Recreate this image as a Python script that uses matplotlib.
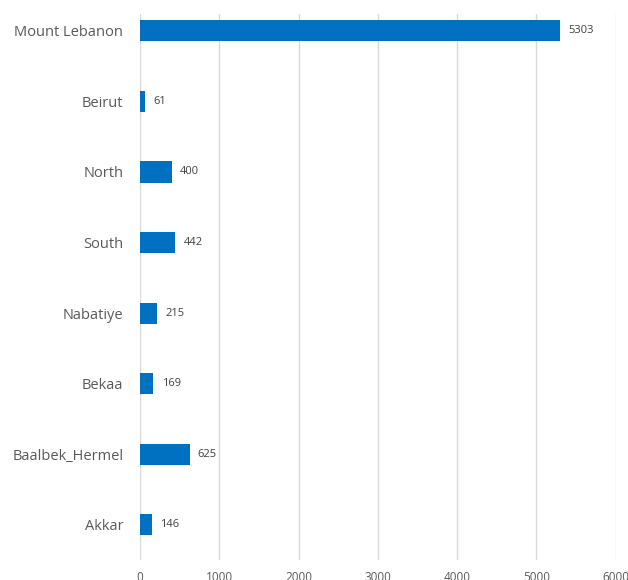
import matplotlib

matplotlib.use("Agg")
import matplotlib.pyplot as plt

regions = ["Mount Lebanon", "Beirut", "North", "South", "Nabatiye", "Bekaa", "Baalbek_Hermel", "Akkar"]
counts = [5303, 61, 400, 442, 215, 169, 625, 146]
xticks = [0, 1000, 2000, 3000, 4000, 5000, 6000]

plt.rcParams["font.family"] = ["Open Sans", "DejaVu Sans"]

fig = plt.figure(figsize=(6.28, 5.8), dpi=100)
ax = fig.add_axes([0.2229, 0.0345, 0.7574, 0.9414])

ypos = list(range(len(regions) - 1, -1, -1))
ax.barh(ypos, counts, height=0.3, color="#0070C0", zorder=3)
for y, v in zip(ypos, counts):
    ax.annotate(str(v), (v, y), xytext=(6, 0), textcoords="offset points",
                va="center", ha="left", fontsize=8, color="#404040")

ax.set_xlim(0, 6000)
ax.set_ylim(-0.5, len(regions) - 1 + 0.24)
ax.set_xticks(xticks)
ax.set_xticklabels([str(t) for t in xticks], fontsize=8.5, color="#595959")
ax.set_yticks(ypos)
ax.set_yticklabels(regions, fontsize=10.5, color="#595959")
ax.tick_params(axis="both", length=0)
ax.tick_params(axis="x", pad=8)
ax.tick_params(axis="y", pad=12)
ax.grid(axis="x", color="#d9d9d9", lw=1, zorder=0)
for s in ax.spines.values():
    s.set_visible(False)

fig.savefig("out.png", dpi=100)
